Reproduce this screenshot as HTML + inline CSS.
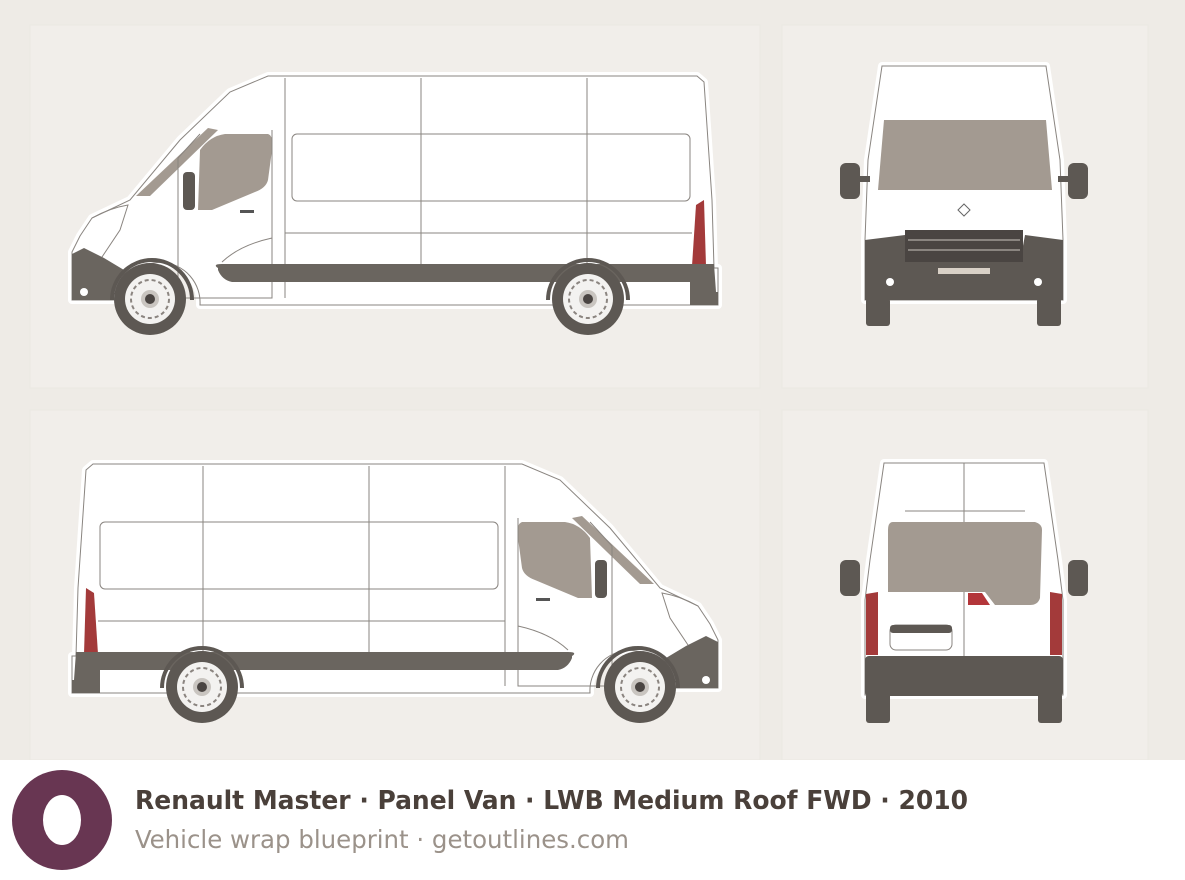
<!DOCTYPE html>
<html><head><meta charset="utf-8"><style>
html,body{margin:0;padding:0;}
body{width:1185px;height:880px;overflow:hidden;background:#eeebe6;}
svg{display:block}
</style></head><body>
<svg width="1185" height="880" viewBox="0 0 1185 880" xmlns="http://www.w3.org/2000/svg">
<defs>
<g id="wheel">
<circle r="36" fill="#5d5853"/>
<circle r="25" fill="#f3f2f0"/>
<circle r="19" fill="none" stroke="#8b8580" stroke-width="2" stroke-dasharray="4 3"/>
<circle r="9" fill="#c9c5c0"/>
<circle r="5" fill="#4a4542"/>
</g>
<g id="side">
<!-- body outline with white halo -->
<path d="M268,76 L697,76 L704,82 L712,200 L714,268 L718,268 L718,305 L610,305 A40,40 0 0 0 566,305 L200,305 A40,40 0 0 0 120,300 L72,300 L72,252 L80,236 L92,218 L130,200 L180,140 L230,92 Z" fill="#fff" stroke="#fff" stroke-width="8" stroke-linejoin="round"/>
<path d="M268,76 L697,76 L704,82 L712,200 L714,268 L718,268 L718,305 L610,305 A40,40 0 0 0 566,305 L200,305 A40,40 0 0 0 120,300 L72,300 L72,252 L80,236 L92,218 L130,200 L180,140 L230,92 Z" fill="#fff" stroke="#8a8580" stroke-width="1"/>
<!-- windshield strip -->
<polygon points="136,196 150,196 218,130 208,128" fill="#a39a91"/>
<!-- side window -->
<path d="M200,150 Q210,136 225,134 L268,134 Q274,136 272,150 L268,180 Q266,188 255,192 L212,210 L198,210 Z" fill="#a39a91"/>
<rect x="183" y="172" width="12" height="38" rx="4" fill="#5d5853"/>
<!-- panel lines -->
<g stroke="#8a8580" stroke-width="1" fill="none">
<line x1="285" y1="78" x2="285" y2="298"/>
<line x1="421" y1="78" x2="421" y2="266"/>
<line x1="587" y1="78" x2="587" y2="266"/>
<rect x="292" y="134" width="398" height="67" rx="5"/>
<line x1="285" y1="233" x2="692" y2="233"/>
<path d="M178,158 L178,298 L272,298 L272,238 Q240,245 222,262"/>
<line x1="272" y1="130" x2="272" y2="238"/>
<line x1="178" y1="158" x2="200" y2="134"/>
<path d="M92,218 Q110,208 128,205 L120,230 L100,260"/>
</g>
<rect x="240" y="210" width="14" height="3" fill="#555"/>
<!-- sill -->
<path d="M218,268 Q212,264 222,264 L700,264 L700,282 L232,282 Q222,280 218,270 Z" fill="#6a655f"/>
<!-- tail light -->
<path d="M696,205 L704,200 L706,266 L692,266 Z" fill="#a33a3a"/>
<!-- rear bumper -->
<path d="M690,264 L714,264 L716,292 L718,292 L718,305 L690,305 Z" fill="#6a655f"/>
<!-- front bumper -->
<path d="M72,254 L84,248 L104,258 L124,270 L112,290 L112,300 L72,300 Z" fill="#6a655f"/>
<circle cx="84" cy="292" r="4" fill="#fff"/>
<!-- wheel arches -->
<path d="M112,300 A40,40 0 0 1 192,300" fill="none" stroke="#5d5853" stroke-width="4"/>
<path d="M548,300 A40,40 0 0 1 628,300" fill="none" stroke="#5d5853" stroke-width="4"/>
<use href="#wheel" x="150" y="299"/>
<use href="#wheel" x="588" y="299"/>
</g>
</defs>
<!-- panels -->
<rect x="30" y="25" width="730" height="363" fill="#f1eeea" stroke="#ebe8e3"/>
<rect x="782" y="25" width="366" height="363" fill="#f1eeea" stroke="#ebe8e3"/>
<rect x="30" y="410" width="730" height="350" fill="#f1eeea" stroke="#ebe8e3"/>
<rect x="782" y="410" width="366" height="350" fill="#f1eeea" stroke="#ebe8e3"/>

<use href="#side"/>
<use href="#side" transform="translate(790,388) scale(-1,1)"/>

<!-- FRONT VIEW -->
<g>
<path d="M882,66 L1046,66 L1060,160 L1063,240 L1063,300 L865,300 L865,240 L868,160 Z" fill="#fff" stroke="#fff" stroke-width="8" stroke-linejoin="round"/>
<path d="M882,66 L1046,66 L1060,160 L1063,240 L1063,300 L865,300 L865,240 L868,160 Z" fill="#fff" stroke="#8a8580"/>
<path d="M884,120 L1046,120 L1052,190 L878,190 Z" fill="#a39a91"/>
<rect x="840" y="163" width="20" height="36" rx="6" fill="#5d5853"/>
<rect x="1068" y="163" width="20" height="36" rx="6" fill="#5d5853"/>
<rect x="858" y="176" width="12" height="6" fill="#5d5853"/>
<rect x="1058" y="176" width="12" height="6" fill="#5d5853"/>
<path d="M865,240 L905,235 L910,262 L1020,262 L1025,235 L1063,240 L1063,300 L865,300 Z" fill="#5d5853"/>
<rect x="905" y="230" width="118" height="32" fill="#4a4542"/>
<g stroke="#8a8580" stroke-width="2"><line x1="908" y1="240" x2="1020" y2="240"/><line x1="908" y1="250" x2="1020" y2="250"/></g>
<rect x="938" y="268" width="52" height="6" fill="#d8d0c6"/>
<circle cx="890" cy="282" r="4" fill="#fff"/>
<circle cx="1038" cy="282" r="4" fill="#fff"/>
<path d="M958,210 l6,-6 l6,6 l-6,6 z" fill="none" stroke="#666"/>
<rect x="866" y="298" width="24" height="28" rx="3" fill="#5d5853"/>
<rect x="1037" y="298" width="24" height="28" rx="3" fill="#5d5853"/>
</g>

<!-- REAR VIEW -->
<g>
<path d="M884,463 L1044,463 L1058,560 L1063,600 L1063,695 L865,695 L865,600 L870,560 Z" fill="#fff" stroke="#fff" stroke-width="8" stroke-linejoin="round"/>
<path d="M884,463 L1044,463 L1058,560 L1063,600 L1063,695 L865,695 L865,600 L870,560 Z" fill="#fff" stroke="#8a8580"/>
<line x1="964" y1="463" x2="964" y2="660" stroke="#8a8580"/>
<line x1="905" y1="511" x2="1025" y2="511" stroke="#8a8580"/>
<path d="M893,522 L1035,522 Q1042,524 1042,530 L1040,598 Q1038,605 1030,605 L995,605 L985,592 L888,592 L888,530 Q888,522 893,522 Z" fill="#a39a91"/>
<path d="M968,593 L982,593 L990,605 L968,605 Z" fill="#b3363a"/>
<rect x="890" y="625" width="62" height="25" rx="6" fill="#fff" stroke="#8a8580"/>
<rect x="890" y="625" width="62" height="8" rx="3" fill="#5d5853"/>
<rect x="840" y="560" width="20" height="36" rx="6" fill="#5d5853"/>
<rect x="1068" y="560" width="20" height="36" rx="6" fill="#5d5853"/>
<path d="M866,594 L878,592 L878,655 L866,655 Z" fill="#a33a3a"/>
<path d="M1050,592 L1062,594 L1062,655 L1050,655 Z" fill="#a33a3a"/>
<rect x="865" y="656" width="198" height="40" rx="4" fill="#5d5853"/>
<rect x="866" y="693" width="24" height="30" rx="3" fill="#5d5853"/>
<rect x="1038" y="693" width="24" height="30" rx="3" fill="#5d5853"/>
</g>

<!-- FOOTER -->
<rect x="0" y="760" width="1185" height="120" fill="#fff"/>
<ellipse cx="62" cy="820" rx="50" ry="50" fill="#683652"/>
<ellipse cx="62" cy="820" rx="19" ry="25" fill="#fff"/>
<text x="135" y="809" font-family="DejaVu Sans Condensed, DejaVu Sans, sans-serif" font-weight="bold" font-size="26" fill="#4a403a" textLength="833" lengthAdjust="spacingAndGlyphs">Renault Master · Panel Van · LWB Medium Roof FWD · 2010</text>
<text x="135" y="848" font-family="DejaVu Sans Condensed, DejaVu Sans, sans-serif" font-size="25" fill="#9b928a" textLength="494" lengthAdjust="spacingAndGlyphs">Vehicle wrap blueprint · getoutlines.com</text>
</svg>
</body></html>
